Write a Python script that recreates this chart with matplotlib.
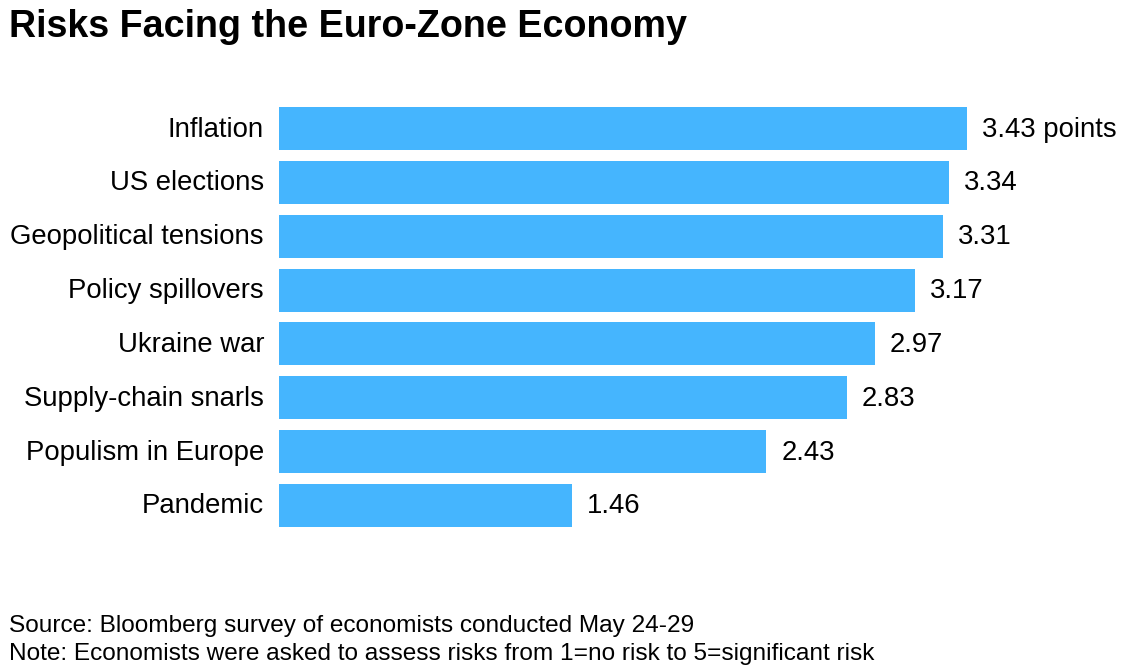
import matplotlib
matplotlib.use("Agg")
import matplotlib.pyplot as plt
from matplotlib.transforms import ScaledTranslation

categories = ["Inflation", "US elections", "Geopolitical tensions", "Policy spillovers",
              "Ukraine war", "Supply-chain snarls", "Populism in Europe", "Pandemic"]
values = [3.43, 3.34, 3.31, 3.17, 2.97, 2.83, 2.43, 1.46]
value_labels = ["3.43 points", "3.34", "3.31", "3.17", "2.97", "2.83", "2.43", "1.46"]

W, H = 1123, 672
plt.rcParams['font.family'] = ['Liberation Sans', 'DejaVu Sans']

fig = plt.figure(figsize=(W/100, H/100), dpi=100)
fig.patch.set_facecolor("white")
# axes covers bar area, pixels 279..967 for 3.43
ax = fig.add_axes([279/W, 1-532.4/H, (967-279)/W, (532.4-101.6)/H])
pos = list(range(len(values)))
ax.barh(pos, values, height=0.798, color="#45b5fe")
ax.set_xlim(0, 3.43)
ax.set_ylim(7.5, -0.5)
ax.set_yticks(pos)
ax.set_yticklabels(categories, fontsize=19.8, color="black")
ax.tick_params(axis='y', length=0, pad=10.8)
ax.set_xticks([])
for s in ax.spines.values():
    s.set_visible(False)

# labels sit about 2px above the bar centre
shift = ScaledTranslation(0, 2/100, fig.dpi_scale_trans)
for label in ax.get_yticklabels():
    label.set_va("center_baseline")
    label.set_transform(label.get_transform() + shift)

for p, v, lab in zip(pos, values, value_labels):
    ax.annotate(lab, (v, p), xytext=(15, 2), textcoords="offset pixels",
                va="center_baseline", ha="left", fontsize=19.8, color="black", annotation_clip=False)

fig.text(9/W, 1-27/H, "Risks Facing the Euro-Zone Economy", fontsize=27.1, fontweight="bold",
         va="center", ha="left", color="black")
fig.text(9/W, 1-626/H, "Source: Bloomberg survey of economists conducted May 24-29", fontsize=17.6,
         va="center", ha="left", color="black")
fig.text(9/W, 1-654/H, "Note: Economists were asked to assess risks from 1=no risk to 5=significant risk", fontsize=17.6,
         va="center", ha="left", color="black")

fig.savefig("out.png", dpi=100)
